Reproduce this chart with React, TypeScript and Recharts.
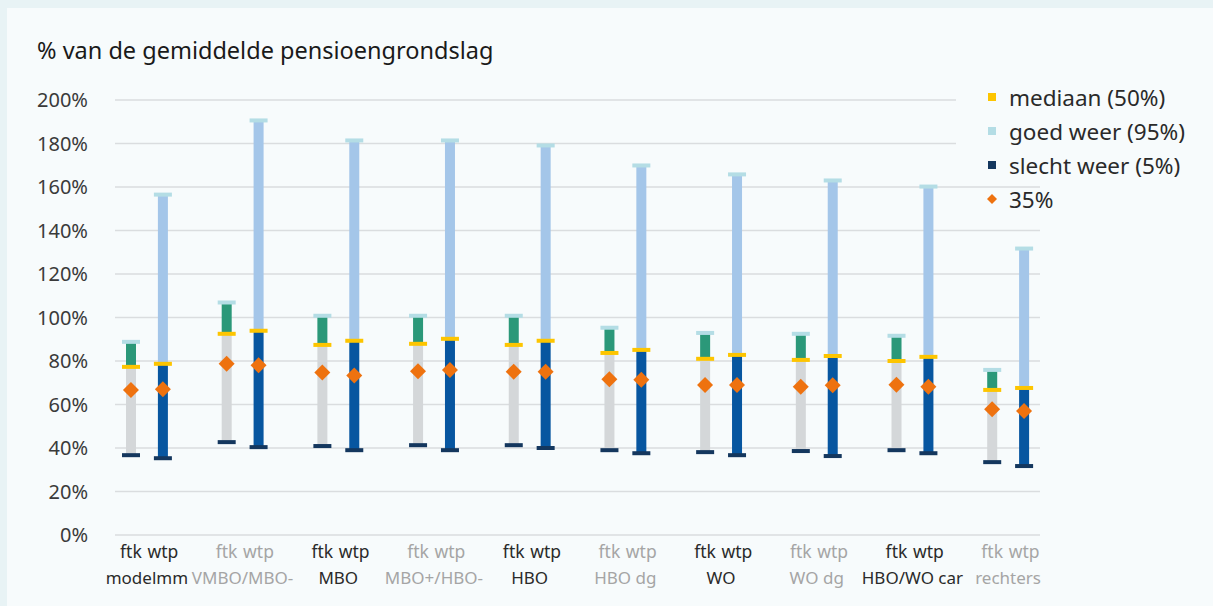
import React from "react";
import { ComposedChart, Bar, Line, XAxis, YAxis, CartesianGrid, Legend } from "recharts";

// groups along the x axis, each with an ftk and a wtp column
const groups = ["modelmm", "VMBO/MBO-", "MBO", "MBO+/HBO-", "HBO", "HBO dg", "WO", "WO dg", "HBO/WO car", "rechters"];

// ftk percentiles (% of average pension base)
const ftkP5 = [36.7, 42.7, 40.9, 41.3, 41.3, 39.0, 38.1, 38.6, 39.0, 33.5];
const ftkP35 = [66.7, 78.7, 74.7, 75.3, 75.1, 71.6, 69.0, 68.2, 69.1, 57.8];
const ftkP50 = [77.3, 92.5, 87.4, 87.9, 87.4, 83.7, 81.0, 80.5, 80.0, 66.7];
const ftkP95 = [88.8, 106.9, 100.8, 100.8, 100.8, 95.3, 92.9, 92.5, 91.6, 75.9];

// wtp percentiles
const wtpP5 = [35.3, 40.4, 39.0, 39.0, 40.0, 37.6, 36.7, 36.3, 37.6, 31.7];
const wtpP35 = [67.0, 78.0, 73.3, 75.9, 75.1, 71.4, 69.0, 68.8, 68.2, 57.0];
const wtpP50 = [78.7, 93.9, 89.3, 90.2, 89.3, 85.1, 82.8, 82.3, 81.9, 67.6];
const wtpP95 = [156.5, 190.6, 181.4, 181.4, 179.1, 169.9, 165.8, 163.0, 160.2, 131.7];

const yTicks = [0, 20, 40, 60, 80, 100, 120, 140, 160, 180, 200];

const legendItems = [
  { label: "mediaan (50%)", color: "#fdc500", shape: "square" },
  { label: "goed weer (95%)", color: "#b4dde5", shape: "square" },
  { label: "slecht weer (5%)", color: "#14375e", shape: "square" },
  { label: "35%", color: "#ee720f", shape: "diamond" },
];

const FONT = '"Segoe UI", "Noto Sans", sans-serif';
const GREY = "#d4d7d9";
const GREEN = "#2b9879";
const DARK_BLUE = "#0756a0";
const LIGHT_BLUE = "#a4c6e9";
const CAP_TOP = "#b4dde5";
const YELLOW = "#fdc500";
const NAVY = "#14375e";
const ORANGE = "#ee720f";
const TEXT_DARK = "#2a2a2a";
const TEXT_GREY = "#a5a5a5";

const W = 1213;
const H = 606;
const MARGIN = { top: 100, right: 173, bottom: 11, left: 0 };
const Y_AXIS_W = 115;
const CAP_W = 18;
const CAP_H = 4;

type Row = {
  key: string;
  kind: "ftk" | "wtp" | "gap";
  group: string;
  dark: boolean;
  base: number;
  low: number;
  high: number;
  p35: number | null;
};

const rows: Row[] = [];
groups.forEach((g, i) => {
  const dark = i % 2 === 0;
  rows.push({
    key: `${g}|ftk`, kind: "ftk", group: g, dark,
    base: ftkP5[i], low: ftkP50[i] - ftkP5[i], high: ftkP95[i] - ftkP50[i], p35: ftkP35[i],
  });
  rows.push({
    key: `${g}|wtp`, kind: "wtp", group: g, dark,
    base: wtpP5[i], low: wtpP50[i] - wtpP5[i], high: wtpP95[i] - wtpP50[i], p35: wtpP35[i],
  });
  if (i < groups.length - 1) {
    rows.push({ key: `gap|${i}`, kind: "gap", group: "", dark, base: 0, low: 0, high: 0, p35: null });
  }
});

const PLOT_W = W - MARGIN.left - MARGIN.right - Y_AXIS_W;
const SLOT = PLOT_W / rows.length;

const LowShape = (props: any) => {
  const { x, y, width, height, payload } = props;
  if (!payload || payload.kind === "gap") return <g />;
  const cx = x + width / 2;
  return (
    <g>
      <rect x={x} y={y} width={width} height={height} fill={payload.kind === "ftk" ? GREY : DARK_BLUE} />
      <rect x={cx - CAP_W / 2} y={y + height - CAP_H / 2} width={CAP_W} height={CAP_H} fill={NAVY} />
    </g>
  );
};

const HighShape = (props: any) => {
  const { x, y, width, height, payload } = props;
  if (!payload || payload.kind === "gap") return <g />;
  const cx = x + width / 2;
  return (
    <g>
      <rect x={x} y={y} width={width} height={height} fill={payload.kind === "ftk" ? GREEN : LIGHT_BLUE} />
      <rect x={cx - CAP_W / 2} y={y - CAP_H / 2} width={CAP_W} height={CAP_H} fill={CAP_TOP} />
      <rect x={cx - CAP_W / 2} y={y + height - CAP_H / 2} width={CAP_W} height={CAP_H} fill={YELLOW} />
    </g>
  );
};

const Diamond = (props: any) => {
  const { cx, cy, payload, index } = props;
  if (cy == null || !payload || payload.p35 == null) return <g key={index} />;
  const r = 8;
  return (
    <polygon
      key={index}
      points={`${cx},${cy - r} ${cx + r},${cy} ${cx},${cy + r} ${cx - r},${cy}`}
      fill={ORANGE}
    />
  );
};

const rowByKey: Record<string, Row> = {};
rows.forEach((r) => (rowByKey[r.key] = r));

const XTick = (props: any) => {
  const { x, y, payload } = props;
  const row = rowByKey[payload.value];
  if (!row || row.kind === "gap") return <g />;
  const fill = row.dark ? TEXT_DARK : TEXT_GREY;
  return (
    <g>
      <text x={x} y={y} dy={23} textAnchor="middle" fill={fill} fontSize={17.5} fontFamily={FONT}>
        {row.kind}
      </text>
      {row.kind === "ftk" && (
        <text x={x + SLOT / 2} y={y} dy={49} textAnchor="middle" fill={fill} fontSize={17} fontFamily={FONT}>
          {row.group}
        </text>
      )}
    </g>
  );
};

const renderLegend = () => (
  <div style={{ fontFamily: FONT, fontSize: 22.5, color: TEXT_DARK }}>
    {legendItems.map((item, i) => (
      <div
        key={item.label}
        style={{
          display: "flex",
          alignItems: "center",
          height: 34,
          background: i < 3 ? "#f7fbfc" : "transparent",
        }}
      >
        <svg width={20} height={20} style={{ marginLeft: 26, marginRight: 7, flexShrink: 0 }}>
          {item.shape === "square" ? (
            <rect x={6} y={6} width={8} height={8} fill={item.color} />
          ) : (
            <polygon points="10,5 15,10 10,15 5,10" fill={item.color} />
          )}
        </svg>
        <span style={{ whiteSpace: "nowrap" }}>{item.label}</span>
      </div>
    ))}
  </div>
);

export default function App() {
  return (
    <div style={{ position: "absolute", left: 0, top: 0, width: W, height: H, background: "#e8f3f5", overflow: "hidden" }}>
      <div style={{ position: "absolute", left: 7, top: 8, width: W - 7, height: H - 8, background: "#f7fbfc" }} />
      <div
        style={{
          position: "absolute",
          left: 37,
          top: 35,
          fontFamily: FONT,
          fontSize: 23.5,
          lineHeight: "30px",
          color: "#1a1a1a",
          whiteSpace: "nowrap",
        }}
      >
        % van de gemiddelde pensioengrondslag
      </div>
      <div style={{ position: "absolute", left: 0, top: 0 }}>
        <ComposedChart width={W} height={H} data={rows} margin={MARGIN} barCategoryGap={0}>
          <CartesianGrid vertical={false} stroke="#dadddf" strokeWidth={1.5} />
          <XAxis
            dataKey="key"
            interval={0}
            tick={<XTick />}
            tickLine={false}
            axisLine={false}
            tickSize={0}
            tickMargin={0}
            height={60}
          />
          <YAxis
            domain={[0, 200]}
            ticks={yTicks}
            width={Y_AXIS_W}
            tickLine={false}
            axisLine={false}
            tickMargin={21}
            tickFormatter={(v: number) => `${v}%`}
            tick={{ fill: "#3a3a3a", fontSize: 20, fontFamily: FONT }}
          />
          <Legend
            layout="vertical"
            align="center"
            verticalAlign="middle"
            content={renderLegend}
            wrapperStyle={{ left: 956, top: 80, width: 257, height: 136 }}
          />
          <Bar dataKey="base" stackId="s" barSize={10} fill="transparent" isAnimationActive={false} legendType="none" />
          <Bar dataKey="low" stackId="s" barSize={10} shape={<LowShape />} isAnimationActive={false} />
          <Bar dataKey="high" stackId="s" barSize={10} shape={<HighShape />} isAnimationActive={false} />
          <Line
            dataKey="p35"
            stroke="none"
            dot={Diamond}
            activeDot={false}
            connectNulls={false}
            isAnimationActive={false}
          />
        </ComposedChart>
      </div>
    </div>
  );
}
